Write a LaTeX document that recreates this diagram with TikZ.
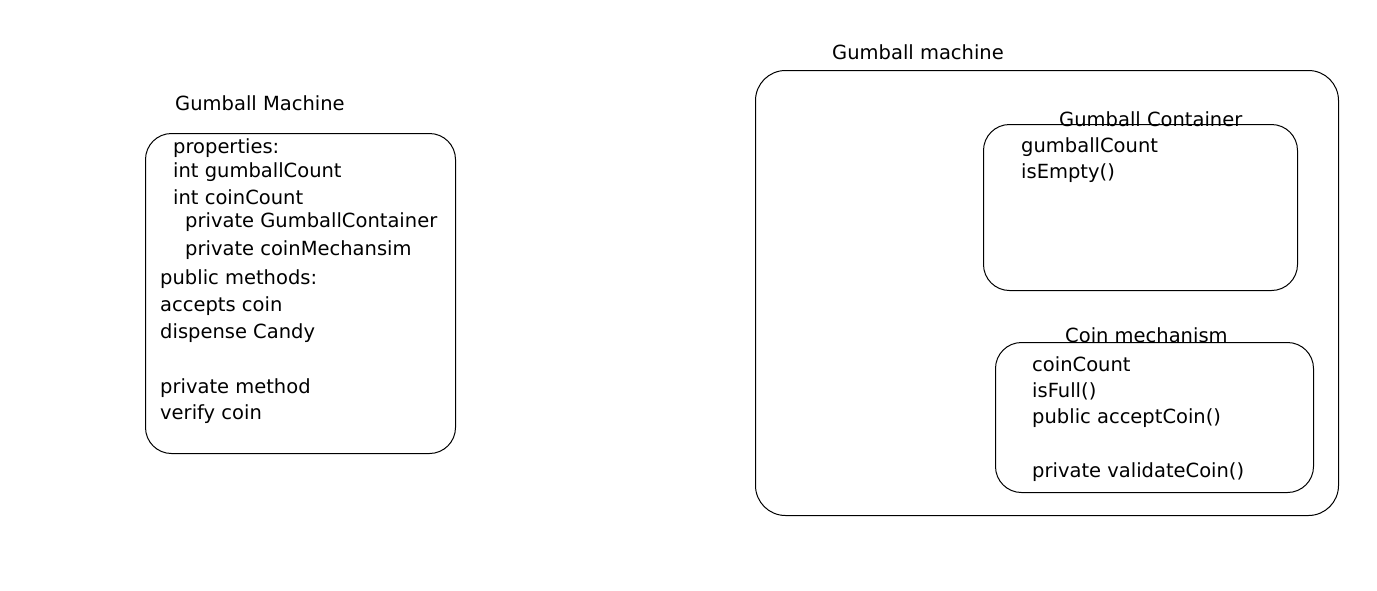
\documentclass[tikz,border=0pt]{standalone}
\usepackage{fontspec}
\setmainfont{DejaVu Sans}

\tikzset{
    box/.style={draw, line width=1pt, rounded corners=26pt, anchor=north west, inner sep=0pt},
    txt/.style={anchor=west, inner sep=0pt, font=\fontsize{19.5}{22}\selectfont},
}

\begin{document}
\begin{tikzpicture}[x=1pt, y=-1pt]
            \useasboundingbox (0, 0) rectangle (1377, 590);
            % left sketch
            \node[txt] (lefttitle) at (175, 103) {Gumball Machine};
            \node[box, minimum width=310pt, minimum height=320pt] (leftbox) at (145, 133) {};
            \node[txt] (props) at (173, 148) {properties:};
            \node[txt] (gcount) at (173, 172) {int gumballCount};
            \node[txt] (ccount) at (173, 197) {int coinCount};
            \node[txt] (pcont) at (185, 222) {private GumballContainer};
            \node[txt] (pmech) at (185, 250) {private coinMechansim};
            \node[txt] (pubm) at (160, 279) {public methods:};
            \node[txt] (accept) at (160, 306) {accepts coin};
            \node[txt] (dispense) at (160, 333) {dispense Candy};
            \node[txt] (privm) at (160, 388) {private method};
            \node[txt] (verify) at (160, 414) {verify coin};
            % right sketch
            \node[txt] (righttitle) at (832, 52) {Gumball machine};
            \node[box, rounded corners=30pt, minimum width=583pt, minimum height=445pt] (machine) at (755, 70) {};
            \node[box, minimum width=314pt, minimum height=166pt] (container) at (983, 124) {};
            \node[txt] (conttitle) at (1059, 119) {Gumball Container};
            \node[txt] (cgum) at (1021, 147) {gumballCount};
            \node[txt] (cempty) at (1021, 173) {isEmpty()};
            \node[box, minimum width=318pt, minimum height=150pt] (mechanism) at (995, 342) {};
            \node[txt] (mechtitle) at (1065, 335) {Coin mechanism};
            \node[txt] (mcoin) at (1032, 364) {coinCount};
            \node[txt] (mfull) at (1032, 391) {isFull()};
            \node[txt] (maccept) at (1032, 418) {public acceptCoin()};
            \node[txt] (mvalid) at (1032, 472) {private validateCoin()};
        \end{tikzpicture}
\end{document}
